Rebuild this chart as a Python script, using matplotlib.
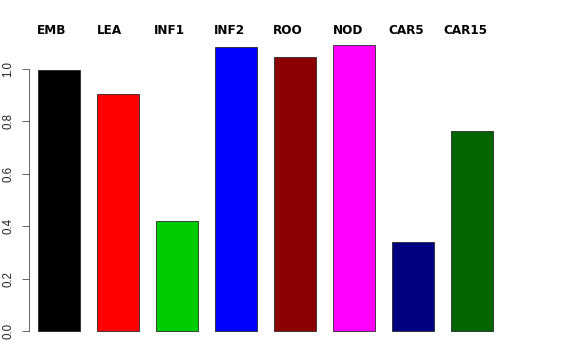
import numpy as np
import matplotlib
matplotlib.use("Agg")
import matplotlib.pyplot as plt

# bar values
labels = ["EMB", "LEA", "INF1", "INF2", "ROO", "NOD", "CAR5", "CAR15"]
values = [0.995, 0.905, 0.42, 1.085, 1.045, 1.093, 0.338, 0.762]
colors = ["#000000", "#FF0000", "#00CD00", "#0000FF",
          "#8B0000", "#FF00FF", "#000080", "#006400"]
# left edge of each header label, in figure pixels
label_px = [37, 97, 154, 214, 273, 333, 388, 443]

fig = plt.figure(figsize=(8, 5), dpi=72)
ax = fig.add_axes([29 / 576, 20 / 360, 512 / 576, 300 / 360])

# R style barplot: width 1, space 0.4
x = 0.4 + 1.4 * np.arange(len(values))
ax.bar(x, values, width=1.0, align="edge", color=colors,
       edgecolor="#222222", linewidth=0.8)

ax.set_xlim(0.4 - 9 / 42.14, 0.4 - 9 / 42.14 + 512 / 42.14)
ax.set_ylim(-9 / 262, 291 / 262)

for s in ["top", "right", "bottom"]:
    ax.spines[s].set_visible(False)
ax.spines["left"].set_bounds(0, 1.0)
ax.spines["left"].set_color("#444444")
ax.set_xticks([])
ax.set_yticks([0.0, 0.2, 0.4, 0.6, 0.8, 1.0])
ax.set_yticklabels(["0.0", "0.2", "0.4", "0.6", "0.8", "1.0"],
                   rotation=90, va="center", family="Liberation Sans",
                   fontsize=11.5, color="#222222")
ax.tick_params(axis="y", length=7.5, width=0.8, pad=7, color="#444444")

for lab, px in zip(labels, label_px):
    fig.text(px / 576, 1 - 30 / 360, lab, ha="left", va="center",
             fontsize=12, fontweight="bold", family="DejaVu Sans")

fig.savefig("out.png", dpi=72)
